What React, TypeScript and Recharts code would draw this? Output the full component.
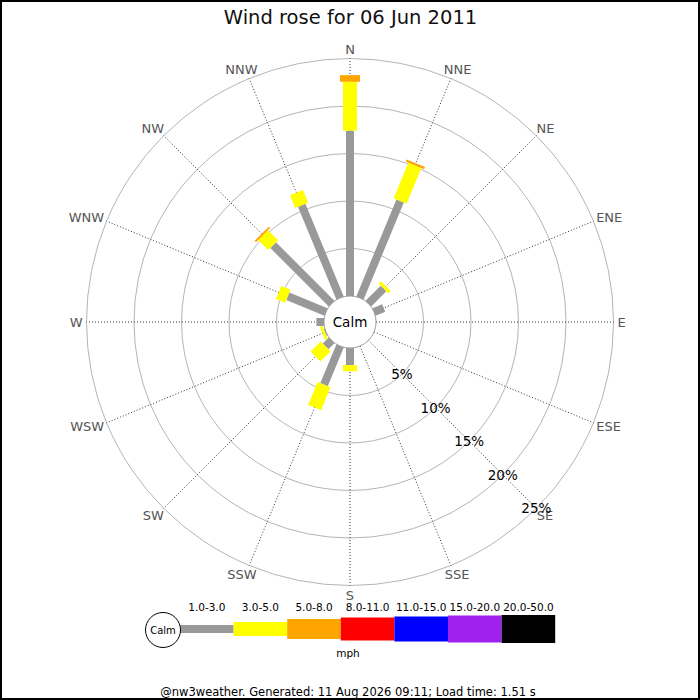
import React from 'react';
import {
  RadialBarChart,
  RadialBar,
  PolarGrid,
  PolarAngleAxis,
  PolarRadiusAxis,
  Customized,
} from 'recharts';

const directions = ['N', 'NNE', 'NE', 'ENE', 'E', 'ESE', 'SE', 'SSE', 'S', 'SSW', 'SW', 'WSW', 'W', 'WNW', 'NW', 'NNW'];
const bearings = [0, 22.5, 45, 67.5, 90, 112.5, 135, 157.5, 180, 202.5, 225, 247.5, 270, 292.5, 315, 337.5];

// % of time per direction, per speed band (mph)
const speed1to3 = [17.4, 11.05, 2.25, 1.1, 0, 0, 0, 0, 1.8, 4.4, 0.9, 0.1, 0.8, 4.35, 8.7, 10.55];
const speed3to5 = [5.15, 4.05, 0.35, 0, 0, 0, 0, 0, 0.65, 2.6, 1.5, 0.3, 0, 1.05, 1.5, 1.45];
const speed5to8 = [0.7, 0.25, 0, 0, 0, 0, 0, 0, 0, 0, 0, 0, 0, 0, 0.2, 0];

const percentTicks = [0, 5, 10, 15, 20, 25];
const bandLabels = ['1.0-3.0', '3.0-5.0', '5.0-8.0', '8.0-11.0', '11.0-15.0', '15.0-20.0', '20.0-50.0'];

const bandColors = ['#999999', '#ffff00', '#ffa500', '#ff0000', '#0000ff', '#a020f0', '#000000'];
const bandWidths = [8, 14, 20, 23, 25, 27, 28];

const CX = 350;
const CY = 322;
const CALM_R = 26;
const FONT = '"DejaVu Sans", Verdana, sans-serif';
const RAD = Math.PI / 180;

const data = directions.map((dir, i) => ({
  dir,
  angle: bearings[i],
  b1: speed1to3[i],
  b2: speed3to5[i],
  b3: speed5to8[i],
}));

const series = [
  { key: 'b1', band: 0 },
  { key: 'b2', band: 1 },
  { key: 'b3', band: 2 },
];

// rough DejaVu advance widths (em) for the compass letters
const letterEm: Record<string, number> = { N: 0.748, E: 0.632, S: 0.635, W: 0.989 };

const AngleTick = (props: any) => {
  const { x, y, payload } = props;
  const idx = bearings.indexOf(payload.value);
  if (idx < 0) return null;
  const label = directions[idx];
  const a = -payload.coordinate * RAD;
  const ux = Math.cos(a);
  const uy = Math.sin(a);
  const w = label.split('').reduce((s, c) => s + (letterEm[c] || 0.7), 0) * 13;
  return (
    <text
      x={x + (w / 2) * ux}
      y={y + 5.5 * uy}
      textAnchor="middle"
      dominantBaseline="central"
      fontSize={13}
      fontFamily={FONT}
      fill="#555"
    >
      {label}
    </text>
  );
};

const RadiusTick = (props: any) => {
  const { x, y, payload } = props;
  if (!payload || payload.value === 0) return null;
  return (
    <text x={x} y={y} textAnchor="middle" dominantBaseline="central" fontSize={13.5} fontFamily={FONT} fill="#000">
      {`${payload.value}%`}
    </text>
  );
};

const stick = (w: number) => (props: any) => {
  const { cx, cy, innerRadius, outerRadius, startAngle, endAngle, fill } = props;
  if (outerRadius == null || Math.abs(outerRadius - innerRadius) < 0.05) return <g />;
  const a = -((startAngle + endAngle) / 2) * RAD;
  const ux = Math.cos(a);
  const uy = Math.sin(a);
  const px = -uy * (w / 2);
  const py = ux * (w / 2);
  const r0 = innerRadius;
  const r1 = outerRadius;
  const pts = [
    [cx + ux * r0 + px, cy + uy * r0 + py],
    [cx + ux * r1 + px, cy + uy * r1 + py],
    [cx + ux * r1 - px, cy + uy * r1 - py],
    [cx + ux * r0 - px, cy + uy * r0 - py],
  ]
    .map((p) => p.join(','))
    .join(' ');
  return <polygon points={pts} fill={fill} stroke="none" />;
};

const Overlay = () => {
  const x0 = 180;
  const segW = 53.6;
  const midY = 629;
  return (
    <g fontFamily={FONT}>
      <circle cx={CX} cy={CY} r={CALM_R} fill="#fff" stroke="#aaa" />
      <text x={CX} y={CY} textAnchor="middle" dominantBaseline="central" fontSize={13.5} fill="#000">
        Calm
      </text>

      <text x={350.5} y={24} textAnchor="middle" fontSize={19.5} fill="#111">
        Wind rose for 06 Jun 2011
      </text>

      {bandLabels.map((lab, i) => (
        <g key={lab}>
          <rect
            x={x0 + segW * i}
            y={midY - bandWidths[i] / 2}
            width={segW}
            height={bandWidths[i]}
            fill={bandColors[i]}
          />
          <text x={x0 + segW * i + segW / 2} y={607} textAnchor="middle" dominantBaseline="central" fontSize={10.5} fill="#000">
            {lab}
          </text>
        </g>
      ))}
      <circle cx={163} cy={630} r={17.5} fill="#fff" stroke="#000" />
      <text x={163} y={630} textAnchor="middle" dominantBaseline="central" fontSize={10} fill="#000">
        Calm
      </text>
      <text x={348} y={653} textAnchor="middle" dominantBaseline="central" fontSize={10.5} fill="#000">
        mph
      </text>

      <text x={348} y={696} textAnchor="middle" fontSize={11.5} fill="#000">
        @nw3weather. Generated: 11 Aug 2026 09:11; Load time: 1.51 s
      </text>
      <rect x={1} y={1} width={698} height={698} fill="none" stroke="#000" strokeWidth={2} />
    </g>
  );
};

export default function App() {
  return (
    <div style={{ position: 'fixed', left: 0, top: 0, width: 700, height: 700, background: '#fff' }}>
      <RadialBarChart
        width={700}
        height={700}
        data={data}
        cx={CX}
        cy={CY}
        innerRadius={CALM_R}
        outerRadius={263.5}
        startAngle={90}
        endAngle={-270}
        layout="centric"
        margin={{ top: 0, right: 0, bottom: 0, left: 0 }}
      >
        <PolarGrid gridType="circle" radialLines={false} stroke="#b5b5b5" />
        <PolarGrid gridType="circle" polarRadius={[]} stroke="#333" strokeDasharray="1 2" />
        <PolarAngleAxis
          type="number"
          dataKey="angle"
          domain={[0, 360]}
          ticks={bearings}
          tick={AngleTick}
          tickLine={false}
          axisLine={false}
          tickSize={4}
        />
        <PolarRadiusAxis
          type="number"
          angle={-45}
          domain={[0, 25]}
          ticks={percentTicks}
          tick={RadiusTick}
          axisLine={false}
          tickLine={false}
        />
        {series.map((s) => (
          <RadialBar
            key={s.key}
            dataKey={s.key}
            stackId="wind"
            fill={bandColors[s.band]}
            shape={stick(bandWidths[s.band])}
            isAnimationActive={false}
          />
        ))}
        <Customized component={Overlay} />
      </RadialBarChart>
    </div>
  );
}
